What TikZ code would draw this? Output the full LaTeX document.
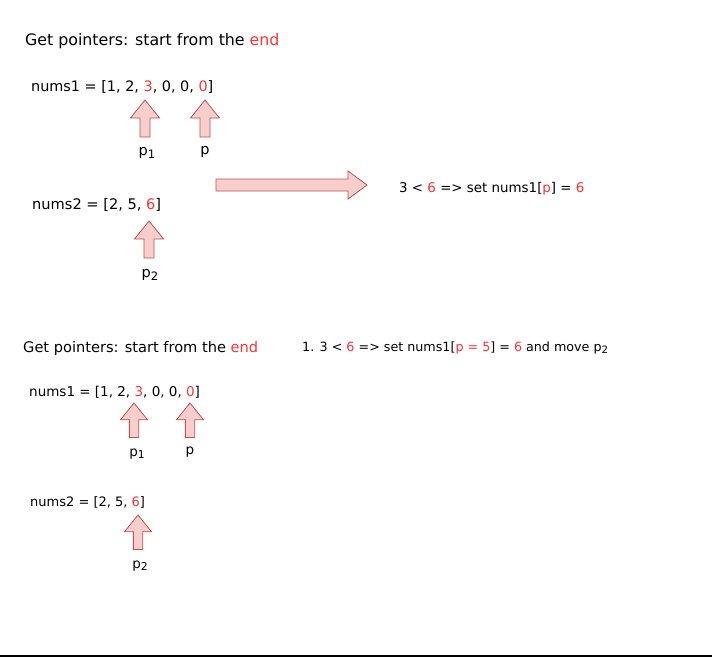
\documentclass[tikz,border=0pt]{standalone}
\usepackage{fontspec}
\setmainfont{DejaVu Sans}
\definecolor{redtxt}{RGB}{255,51,51}
\definecolor{ptrfill}{HTML}{F8CECC}
\definecolor{ptrline}{HTML}{B85450}
\newcommand\rd[1]{\textcolor{redtxt}{#1}}
\newcommand\subn[1]{\raisebox{-0.35ex}{\scalebox{0.8}{#1}}}
\newcommand\fsz[1]{\fontsize{#1}{#1}\selectfont}
\begin{document}
\begin{tikzpicture}[x=1pt,y=-1pt,
  lbl/.style={inner sep=0pt, anchor=base west, font=\fsz{14}},
  plbl/.style={inner sep=0pt, anchor=center, font=\fsz{14.5}},
  plblb/.style={plbl, font=\fsz{13.5}},
  ptr/.style={fill=ptrfill, draw=ptrline, line width=0.8pt, line join=miter},
  pics/uparr/.style={code={\draw[ptr] (0,0) -- (14.5,18) -- (5,18) -- (5,37) -- (-5,37) -- (-5,18) -- (-14.5,18) -- cycle;}}]
\useasboundingbox (0,0) rectangle (712,657);
\fill[white] (0,0) rectangle (712,657);
\fill[black] (0,654.5) rectangle (712,657);
% top section
\node[lbl, font=\fsz{15.8}] (t1) at (25,45) {Get pointers: start from the \rd{end}};
\node[lbl, font=\fsz{14.4}] (t2) at (31,91) {nums1 = [1, 2, \rd{3}, 0, 0, \rd{0}]};
\pic (ta1) at (145,100) {uparr};
\pic (ta2) at (205,100) {uparr};
\node[plbl] (tp1) at (147,153) {p\subn{1}};
\node[plbl] (tp) at (205,151.5) {p};
\node[lbl, font=\fsz{14.6}] (t3) at (32,209) {nums2 = [2, 5, \rd{6}]};
\pic (ta3) at (149,221) {uparr};
\node[plbl] (tp2) at (150,275) {p\subn{2}};
\draw[ptr] (216,179) -- (348,179) -- (348,171) -- (367,185) -- (348,199) -- (348,191) -- (216,191) -- cycle;
\node[lbl, font=\fsz{13.4}] (t4) at (399,192) {3 < \rd{6} => set nums1[\rd{p}] = \rd{6}};
% bottom section
\node[lbl, font=\fsz{14.6}] (b1) at (23,352) {Get pointers: start from the \rd{end}};
\node[lbl, font=\fsz{12.7}] (b2) at (302,351) {1. 3 < \rd{6} => set nums1[\rd{p = 5}] = \rd{6} and move p\subn{2}};
\node[lbl, font=\fsz{13.5}] (b3) at (29,396) {nums1 = [1, 2, \rd{3}, 0, 0, \rd{0}]};
\pic[scale=0.93] (ba1) at (134,403) {uparr};
\pic[scale=0.93] (ba2) at (190,403) {uparr};
\node[plblb] (bp1) at (137,454) {p\subn{1}};
\node[plblb] (bp) at (190,452) {p};
\node[lbl, font=\fsz{13}] (b4) at (30,506) {nums2 = [2, 5, \rd{6}]};
\pic[scale=0.93] (ba3) at (138,515) {uparr};
\node[plblb] (bp2) at (140,566) {p\subn{2}};
\end{tikzpicture}
\end{document}
